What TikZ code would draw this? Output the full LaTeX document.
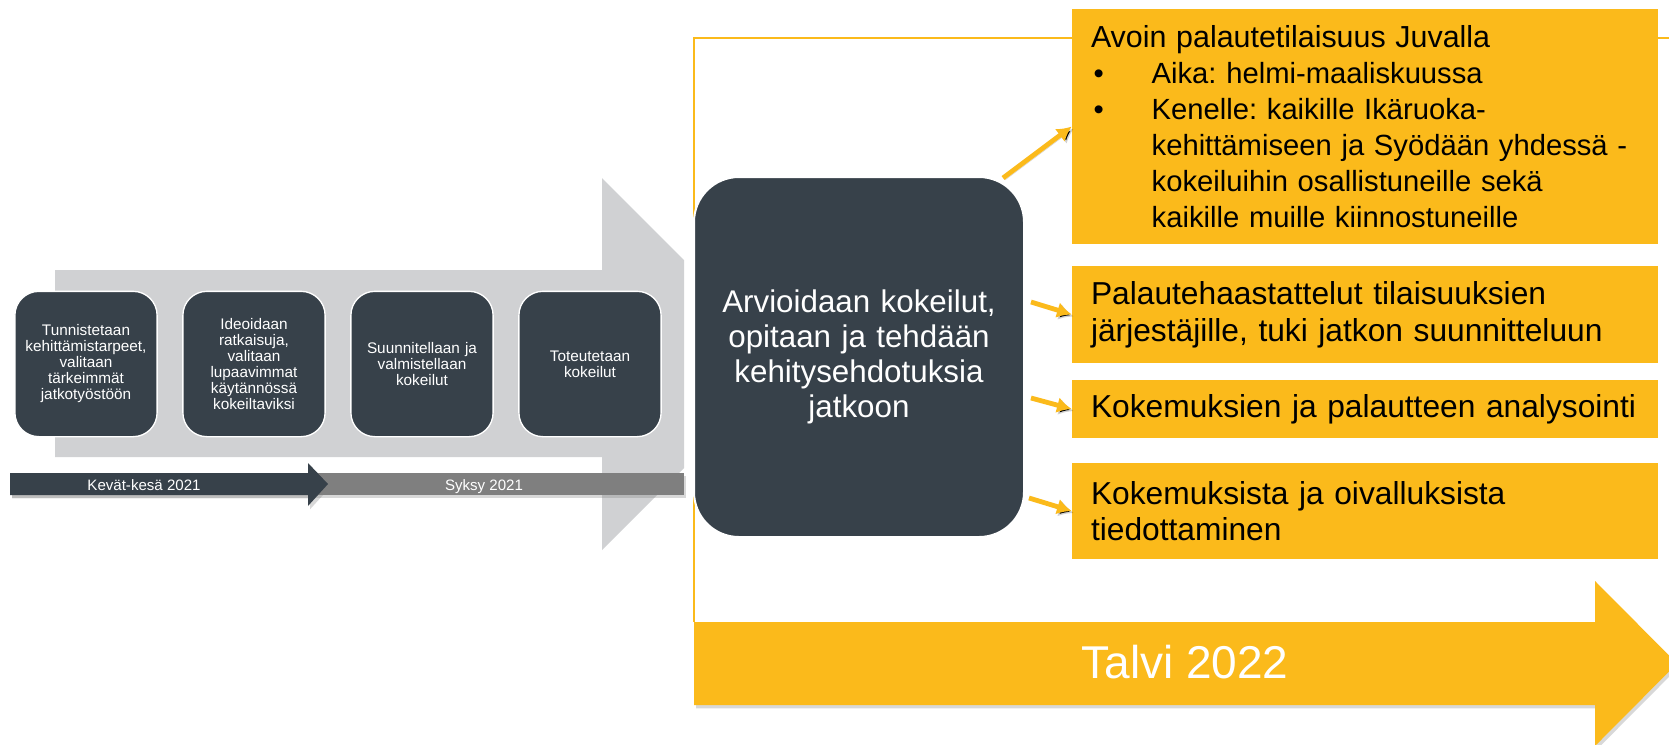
\documentclass[tikz,border=0pt]{standalone}
\usepackage{fontspec}
\setmainfont{Liberation Sans}
\frenchspacing
\usetikzlibrary{arrows.meta,calc,positioning,shadows}
\definecolor{slate}{HTML}{37414A}
\definecolor{amber}{HTML}{FBBA1B}
\definecolor{lightgrey}{HTML}{D0D1D3}
\definecolor{midgrey}{HTML}{7F7F7F}
\tikzstyle{phase}=[draw=white,line width=1pt,fill=slate,rounded corners=18pt,minimum width=106pt,minimum height=109pt,text width=100pt,align=center,text=white,font=\fontsize{11.5}{12}\selectfont]
\tikzstyle{evalbox}=[draw=white,line width=1.5pt,fill=slate,rounded corners=33.75pt,minimum width=247.5pt,minimum height=270pt,text width=235pt,align=center,text=white,font=\fontsize{23.5}{26.25}\selectfont]
\tikzstyle{ybox}=[fill=amber,text width=411pt,inner xsep=14.25pt,align=left,font=\fontsize{23.8}{27.5}\selectfont]
\tikzstyle{yarrow}=[->,draw=amber,line width=3.6pt,preaction={draw=black,draw opacity=.18,transform canvas={xshift=1.5pt,yshift=-1.5pt}}]
\tikzstyle{when}=[text=white,anchor=base,font=\fontsize{11.3}{13}\selectfont]
\tikzstyle{castshadow}=[drop shadow={shadow xshift=1.5pt,shadow yshift=-2.5pt,opacity=.3}]
\newcommand{\ybul}{\hspace*{2pt}\makebox[43.5pt][l]{•}}
\newcommand{\yind}{\hspace*{45.5pt}}

\begin{document}
\begin{tikzpicture}[
      >={Latex[length=11pt,width=12pt]},
      x=0.75pt,y=-0.75pt
    ]
      \useasboundingbox (0,0) rectangle (1669,744);
      \fill[white] (0,0) rectangle (1669,744);

      % frame line and the grey process arrow
      \draw[amber,line width=1.5pt] (694,622) -- (694,38) -- (1669,38);
      \fill[lightgrey] (55,270) -- (602,270) -- (602,178) -- (684,260) -- (684,468) -- (602,550) -- (602,457) -- (55,457) -- cycle;

      % timeline
      \fill[midgrey,castshadow] (10,473) rectangle (684,495);
      \fill[slate,castshadow] (10,473) -- (308,473) -- (308,463) -- (328,484) -- (308,506) -- (308,495) -- (10,495) -- cycle;
      \node [when] (t1) at (144,490) {Kevät-kesä 2021};
      \node [when] (t2) at (484,490) {Syksy 2021};

      \node [phase] (ph1) at (86,364) {Tunnistetaan\\kehittämistarpeet,\\valitaan\\tärkeimmät\\jatkotyöstöön};
      \node [phase] (ph2) [node distance=126pt,right of=ph1] {Ideoidaan\\ratkaisuja,\\valitaan\\lupaavimmat\\käytännössä\\kokeiltaviksi};
      \node [phase] (ph3) [node distance=126pt,right of=ph2] {Suunnitellaan ja\\valmistellaan\\kokeilut};
      \node [phase] (ph4) [node distance=126pt,right of=ph3] {Toteutetaan\\kokeilut};

      \node [evalbox] (ev) at (859,357) {Arvioidaan kokeilut,\\opitaan ja tehdään\\kehitysehdotuksia\\jatkoon};

      \node [ybox,minimum height=176.25pt,font=\fontsize{21.9}{27}\selectfont] (fb) at (1365,126.5) {{\fontsize{22.8}{27}\selectfont Avoin palautetilaisuus Juvalla}\\
        \ybul Aika: helmi-maaliskuussa\\
        \ybul Kenelle: kaikille Ikäruoka-\\
        \yind kehittämiseen ja Syödään yhdessä -\\
        \yind kokeiluihin osallistuneille sekä\\
        \yind kaikille muille kiinnostuneille};
      \node [ybox,minimum height=72.75pt] (fb1) [node distance=141pt,below of=fb] {Palautehaastattelut tilaisuuksien\\järjestäjille, tuki jatkon suunnitteluun};
      \node [ybox,minimum height=43.5pt] (fb2) [node distance=70.9pt,below of=fb1] {Kokemuksien ja palautteen analysointi};
      \node [ybox,minimum height=72pt] (fb3) [node distance=76.5pt,below of=fb2] {Kokemuksista ja oivalluksista\\tiedottaminen};

      \draw[yarrow] ($(ev.north east)+(-22,2)$) -> (fb.west);
      \draw[yarrow] ($(ev.east)+(6,-55)$) -> (fb1.west);
      \draw[yarrow] ($(ev.east)+(6,41)$) -> (fb2.west);
      \draw[yarrow] ($(ev.east)+(4,141)$) -> (fb3.west);

      % winter arrow
      \fill[amber,castshadow] (694,622) -- (1595,622) -- (1595,581) -- (1677,663.5) -- (1595,746) -- (1595,705) -- (694,705) -- cycle;
      \node [text=white,anchor=base,font=\fontsize{34.5}{40}\selectfont] (talvi) at (1185,678) {Talvi 2022};
      \end{tikzpicture}
\end{document}
